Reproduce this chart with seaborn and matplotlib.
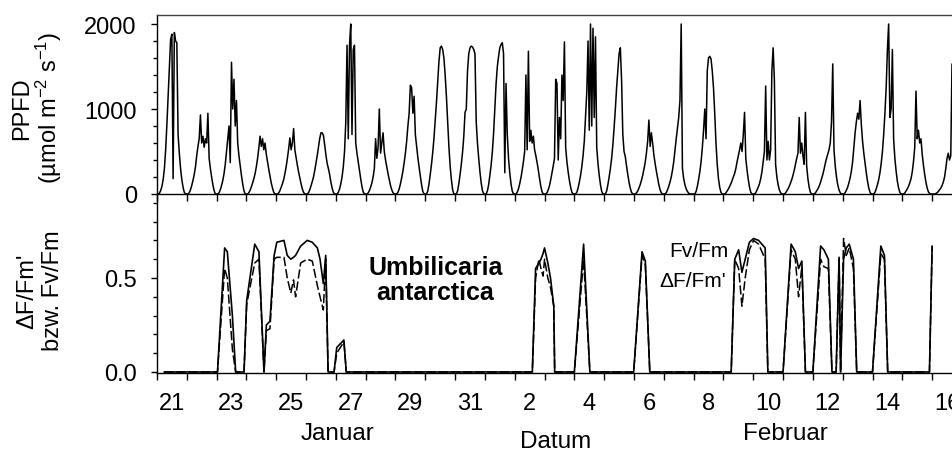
import numpy as np
import matplotlib
matplotlib.use("Agg")
import matplotlib.pyplot as plt
from matplotlib.ticker import MultipleLocator
import seaborn as sns

# PPFD, hourly values (0h..23h) for each day, Jan 21 .. Feb 16
jan21 = [0, 0, 10, 40, 90, 170, 300, 520, 820, 1150, 1500, 1820, 1880, 180, 1900, 1800, 1780, 700, 480, 300, 170, 80, 20, 0]
jan22 = [0, 0, 15, 50, 100, 160, 230, 320, 450, 560, 650, 930, 600, 680, 550, 650, 600, 950, 420, 300, 200, 110, 40, 0]
jan23 = [0, 0, 15, 50, 100, 160, 240, 350, 500, 650, 800, 370, 1550, 1000, 1350, 800, 1100, 600, 450, 330, 220, 120, 40, 0]
jan24 = [0, 0, 15, 45, 85, 130, 180, 240, 320, 420, 540, 680, 560, 650, 520, 600, 470, 380, 290, 210, 130, 70, 20, 0]
jan25 = [0, 0, 12, 40, 80, 120, 170, 240, 320, 420, 530, 660, 520, 600, 770, 520, 430, 340, 260, 190, 120, 60, 20, 0]
jan26 = [0, 0, 15, 50, 95, 145, 200, 275, 360, 450, 550, 650, 720, 720, 690, 580, 460, 360, 300, 230, 140, 70, 20, 0]
jan27 = [0, 0, 20, 60, 120, 200, 320, 500, 850, 1750, 650, 1750, 2000, 700, 1700, 1750, 600, 480, 380, 280, 180, 90, 25, 0]
jan28 = [0, 0, 12, 40, 80, 130, 200, 300, 650, 420, 550, 1000, 480, 600, 720, 500, 400, 320, 240, 170, 100, 50, 15, 0]
jan29 = [0, 0, 20, 60, 120, 190, 270, 370, 480, 620, 800, 950, 1280, 1250, 950, 1150, 700, 560, 430, 320, 210, 110, 30, 0]
jan30 = [0, 0, 35, 120, 230, 350, 490, 660, 870, 1080, 1320, 1560, 1720, 1740, 1700, 1600, 1400, 1150, 850, 560, 330, 170, 50, 0]
jan31 = [0, 0, 35, 120, 230, 350, 490, 680, 960, 1000, 1450, 1650, 1720, 1740, 1730, 1700, 1650, 850, 600, 420, 260, 130, 40, 0]
feb01 = [0, 0, 35, 110, 220, 340, 500, 720, 1000, 1300, 1500, 1620, 1720, 1760, 1780, 1650, 250, 1300, 700, 420, 250, 120, 35, 0]
feb02 = [0, 0, 20, 60, 120, 190, 280, 380, 500, 1400, 520, 1680, 620, 750, 600, 680, 520, 450, 370, 280, 180, 90, 25, 0]
feb03 = [0, 0, 15, 50, 100, 170, 250, 330, 420, 1350, 1300, 400, 900, 650, 1400, 1100, 1790, 550, 380, 260, 160, 80, 20, 0]
feb04 = [0, 0, 20, 70, 140, 220, 320, 450, 620, 900, 1200, 1800, 750, 2000, 800, 1950, 900, 1850, 550, 360, 220, 110, 30, 0]
feb05 = [0, 0, 35, 110, 200, 300, 420, 580, 780, 1000, 1250, 1450, 1650, 1720, 1350, 700, 500, 440, 330, 230, 140, 70, 20, 0]
feb06 = [0, 0, 12, 35, 70, 110, 160, 220, 290, 370, 480, 620, 870, 560, 720, 600, 460, 360, 270, 190, 110, 50, 15, 0]
feb07 = [0, 0, 15, 50, 90, 140, 200, 280, 380, 520, 650, 780, 900, 1100, 2000, 300, 180, 110, 60, 30, 10, 0, 0, 0]
feb08 = [0, 0, 30, 90, 170, 260, 380, 540, 750, 1000, 650, 1450, 1600, 1620, 1590, 1450, 1250, 950, 600, 350, 180, 80, 20, 0]
feb09 = [0, 0, 12, 35, 60, 90, 120, 160, 200, 240, 300, 380, 450, 520, 600, 500, 700, 960, 420, 280, 170, 80, 20, 0]
feb10 = [0, 0, 15, 45, 80, 120, 180, 260, 380, 500, 1270, 400, 620, 400, 520, 1450, 1720, 1350, 350, 200, 110, 50, 15, 0]
feb11 = [0, 0, 12, 35, 60, 90, 130, 170, 220, 280, 350, 420, 480, 900, 480, 600, 450, 350, 960, 330, 180, 80, 20, 0]
feb12 = [0, 0, 12, 35, 60, 90, 130, 180, 230, 290, 360, 420, 470, 520, 600, 850, 1530, 520, 330, 200, 110, 50, 15, 0]
feb13 = [0, 0, 15, 45, 80, 130, 190, 270, 380, 550, 720, 850, 950, 880, 1100, 820, 620, 480, 360, 250, 150, 70, 20, 0]
feb14 = [0, 0, 20, 60, 110, 170, 250, 360, 500, 700, 950, 1250, 1700, 2000, 900, 1000, 1700, 650, 420, 270, 150, 70, 20, 0]
feb15 = [0, 0, 12, 35, 60, 90, 130, 180, 260, 380, 550, 1210, 650, 750, 600, 650, 470, 340, 230, 140, 70, 25, 5, 0]
feb16 = [0, 0, 0, 5, 15, 30, 50, 70, 100, 140, 200, 300, 420, 480, 400, 450, 1530, 800]

ppfd_days = [jan21, jan22, jan23, jan24, jan25, jan26, jan27, jan28, jan29, jan30, jan31,
             feb01, feb02, feb03, feb04, feb05, feb06, feb07, feb08, feb09, feb10,
             feb11, feb12, feb13, feb14, feb15, feb16]
first_day = 21  # Jan 21, days counted from Jan 1 (Feb 1 = 32)

# chlorophyll fluorescence (time in days, same scale)
fl_time = [21.24, 23.03, 23.27, 23.36, 23.53, 23.64, 23.92, 24.01, 24.28, 24.42, 24.59,
           24.67, 24.79, 24.93, 25.02, 25.26, 25.37, 25.49, 25.58, 25.65, 25.82, 26.04,
           26.21, 26.38, 26.47, 26.58, 26.66, 26.74, 26.94, 27.03, 27.27, 27.35,
           33.59, 33.70, 33.81, 33.88, 33.95, 34.00, 34.11, 34.20, 34.31, 34.34,
           35.00, 35.31, 35.52, 36.99, 37.27, 37.38, 37.53,
           40.26, 40.38, 40.51, 40.62, 40.73, 40.87, 41.01, 41.18, 41.40, 41.49,
           42.00, 42.27, 42.41, 42.52, 42.63, 42.75,
           43.00, 43.26, 43.37, 43.52, 43.64, 43.78, 43.88, 43.93, 44.03, 44.12,
           44.22, 44.36, 44.47, 45.00, 45.28, 45.40, 45.51, 46.91, 47.00]
fv_fm = [0, 0, 0.66, 0.64, 0.30, 0, 0, 0.38, 0.68, 0.64, 0,
         0.25, 0.27, 0.62, 0.69, 0.70, 0.62, 0.60, 0.61, 0.62, 0.67, 0.70,
         0.69, 0.66, 0.60, 0.47, 0.62, 0, 0, 0.13, 0.17, 0,
         0, 0.55, 0.58, 0.60, 0.63, 0.66, 0.58, 0.50, 0.35, 0,
         0, 0.68, 0, 0, 0.64, 0.59, 0,
         0, 0.60, 0.65, 0.53, 0.60, 0.69, 0.71, 0.70, 0.66, 0,
         0, 0.68, 0.64, 0.55, 0.59, 0,
         0, 0.67, 0.65, 0.60, 0, 0, 0.61, 0, 0.60, 0.66,
         0.68, 0.60, 0, 0, 0.67, 0.62, 0, 0, 0.67]
dF_fm = [0, 0, 0.55, 0.50, 0.12, 0, 0, 0.36, 0.58, 0.60, 0,
         0.22, 0.23, 0.60, 0.61, 0.61, 0.50, 0.42, 0.49, 0.40, 0.58, 0.60,
         0.59, 0.46, 0.40, 0.33, 0.60, 0, 0, 0.10, 0.16, 0,
         0, 0.50, 0.60, 0.55, 0.51, 0.60, 0.50, 0.45, 0.35, 0,
         0, 0.60, 0, 0, 0.62, 0.57, 0,
         0, 0.60, 0.55, 0.35, 0.50, 0.65, 0.70, 0.68, 0.60, 0,
         0, 0.65, 0.60, 0.40, 0.56, 0,
         0, 0.60, 0.56, 0.55, 0, 0, 0.60, 0, 0.71, 0.62,
         0.66, 0.55, 0, 0, 0.63, 0.60, 0, 0, 0.67]

jan_labels = ["21", "23", "25", "27", "29", "31"]
feb_labels = ["2", "4", "6", "8", "10", "12", "14", "16"]

sns.set_style("ticks")
plt.rcParams["font.family"] = ["Liberation Sans", "DejaVu Sans"]
plt.rcParams["mathtext.fontset"] = "custom"
plt.rcParams["mathtext.rm"] = "Liberation Sans"
plt.rcParams["mathtext.default"] = "regular"
for key in ("text.color", "axes.labelcolor", "xtick.color", "ytick.color", "axes.edgecolor"):
    plt.rcParams[key] = "black"

ppfd_t, ppfd_v = [], []
for i, day in enumerate(ppfd_days):
    for h, val in enumerate(day):
        ppfd_t.append(first_day + i + h / 24)
        ppfd_v.append(val)

fig = plt.figure(figsize=(9.53, 4.52), dpi=100)
ax2 = fig.add_axes([0.1647, 0.1726, 0.8353, 0.3960])
ax1 = fig.add_axes([0.1647, 0.5686, 0.8353, 0.3960])
ax1.patch.set_visible(False)
ax2.patch.set_visible(False)

sns.lineplot(x=ppfd_t, y=ppfd_v, ax=ax1, color="black", lw=1.1,
             estimator=None, sort=False)
sns.lineplot(x=fl_time, y=fv_fm, ax=ax2, color="black", lw=1.2,
             estimator=None, sort=False)
sns.lineplot(x=fl_time, y=dF_fm, ax=ax2, color="black", lw=1.1,
             estimator=None, sort=False, linestyle=(0, (6, 2)))

tick_fs = 17
xmax = 47.7
days = np.arange(21, 48)
label_pos = [21.5 + 2 * k for k in range(len(jan_labels))] + \
            [33.5 + 2 * k for k in range(len(feb_labels))]

for ax in (ax1, ax2):
    ax.set_xlim(21, xmax)
    ax.set_xticks(days)
    ax.set_xticklabels([])
    ax.tick_params(axis="x", which="major", direction="out", length=5, width=1, color="black")
    ax.tick_params(axis="y", which="major", direction="out", length=4, width=1,
                   labelsize=tick_fs, pad=10.5, color="black", labelcolor="black")
    ax.tick_params(axis="y", which="minor", direction="out", length=3, width=1, color="black")
    ax.spines["right"].set_visible(False)
    for s in ax.spines.values():
        s.set_color("black")
        s.set_linewidth(1)
    ax.set_xlabel("")
    ax.set_ylabel("")

ax1.set_ylim(0, 2106)
ax1.set_yticks([0, 1000, 2000])
ax1.yaxis.set_minor_locator(MultipleLocator(200))
ax1.spines["top"].set_color("#444444")

ax2.set_ylim(-0.0053, 0.9468)
ax2.set_yticks([0.0, 0.5])
ax2.set_yticklabels(["0.0", "0.5"])
ax2.yaxis.set_minor_locator(MultipleLocator(0.1))
ax2.spines["top"].set_visible(False)
ax2.set_xticks(label_pos, minor=True)
ax2.set_xticklabels(jan_labels + feb_labels, minor=True)
ax2.tick_params(axis="x", which="minor", length=0, labelsize=tick_fs, pad=14, labelcolor="black")

# labels inside the lower panel
ax2.text(30.34, 0.521, "Umbilicaria", fontsize=18, fontweight="bold", ha="center", va="baseline")
ax2.text(30.34, 0.388, "antarctica", fontsize=18, fontweight="bold", ha="center", va="baseline")
ax2.text(40.16, 0.617, "Fv/Fm", fontsize=15, ha="right", va="baseline")
ax2.text(40.10, 0.457, "\u0394F/Fm'", fontsize=15, ha="right", va="baseline")

# axis titles
lab_fs = 17
fig.text(28 / 953, 1 - 109 / 452, "PPFD", fontsize=lab_fs, rotation=90,
         rotation_mode="anchor", ha="center", va="baseline")
fig.text(57 / 953, 1 - 108 / 452, "(\u00b5mol m$^{-2}$ s$^{-1}$)", fontsize=lab_fs, rotation=90,
         rotation_mode="anchor", ha="center", va="baseline")
fig.text(33 / 953, 1 - 291 / 452, "\u0394F/Fm'", fontsize=lab_fs, rotation=90,
         rotation_mode="anchor", ha="center", va="baseline")
fig.text(59 / 953, 1 - 291 / 452, "bzw. Fv/Fm", fontsize=lab_fs, rotation=90,
         rotation_mode="anchor", ha="center", va="baseline")

fig.text(338 / 953, 1 - 440 / 452, "Januar", fontsize=17.5, ha="center", va="baseline")
fig.text(785 / 953, 1 - 440 / 452, "Februar", fontsize=17.5, ha="center", va="baseline")
fig.text(556 / 953, 1 - 448 / 452, "Datum", fontsize=17.5, ha="center", va="baseline")

fig.savefig("out.png", dpi=100)
